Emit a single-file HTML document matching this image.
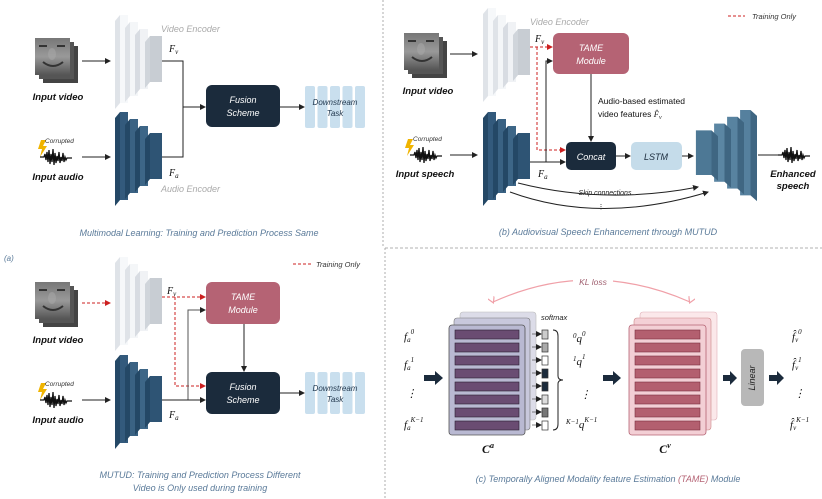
<!DOCTYPE html>
<html><head><meta charset="utf-8"><style>
html,body{margin:0;padding:0;background:#fff;}
svg{display:block;font-family:"Liberation Sans",sans-serif;}
.it{font-style:italic}
.lbl{font-weight:bold;font-style:italic;font-size:9.5px;fill:#111;text-anchor:middle}
.cap{font-style:italic;font-size:9px;fill:#5a7a99;text-anchor:middle}
.bx{font-style:italic;font-size:9px;fill:#fff;text-anchor:middle}
.math{font-family:"Liberation Serif",serif;font-style:italic;fill:#111}
</style></head><body>
<svg width="822" height="499" viewBox="0 0 822 499" xmlns="http://www.w3.org/2000/svg">
<defs>
<marker id="ar" markerWidth="6" markerHeight="6" refX="5" refY="3" orient="auto" markerUnits="userSpaceOnUse"><path d="M0,0L6,3L0,6z" fill="#222"/></marker>
<marker id="arr" markerWidth="6" markerHeight="6" refX="5" refY="3" orient="auto" markerUnits="userSpaceOnUse"><path d="M0,0L6,3L0,6z" fill="#cc2020"/></marker>
<marker id="arp" markerWidth="7" markerHeight="7" refX="3.5" refY="5" orient="auto" markerUnits="userSpaceOnUse"><path d="M0,0L3.5,6L7,0" fill="none" stroke="#f0a0a8" stroke-width="1.2"/></marker>
<linearGradient id="face" x1="0" y1="0" x2="0" y2="1"><stop offset="0" stop-color="#777"/><stop offset="0.5" stop-color="#999"/><stop offset="1" stop-color="#555"/></linearGradient>
<g id="encW">
 <polygon points="0,6 5,0 5,88 0,94" fill="#dfe3e8"/><rect x="5" y="0" width="8" height="88" fill="#f6f8fa"/>
 <polygon points="10,13 15,7 15,81 10,87" fill="#dfe3e8"/><rect x="15" y="7" width="8" height="74" fill="#f4f6f8"/>
 <polygon points="20,20 25,14 25,74 20,80" fill="#d8dce2"/><rect x="25" y="14" width="8" height="60" fill="#f0f2f5"/>
 <polygon points="30,27 35,21 35,67 30,73" fill="#d0d5db"/><rect x="35" y="21" width="12" height="46" fill="#c8cdd3"/>
</g>
<g id="encB">
 <polygon points="0,6 5,0 5,88 0,94" fill="#244866"/><rect x="5" y="0" width="8" height="88" fill="#335a7c"/>
 <polygon points="10,13 15,7 15,81 10,87" fill="#244866"/><rect x="15" y="7" width="8" height="74" fill="#3a6283"/>
 <polygon points="20,20 25,14 25,74 20,80" fill="#244866"/><rect x="25" y="14" width="8" height="60" fill="#3d6687"/>
 <polygon points="30,27 35,21 35,67 30,73" fill="#244866"/><rect x="35" y="21" width="12" height="46" fill="#2e5474"/>
</g>
<g id="encD">
 <polygon points="0,6 5,0 5,88 0,94" fill="#3f6682"/><rect x="5" y="0" width="8" height="88" fill="#55809e"/>
 <polygon points="10,13 15,7 15,81 10,87" fill="#3f6682"/><rect x="15" y="7" width="8" height="74" fill="#5883a0"/>
 <polygon points="20,20 25,14 25,74 20,80" fill="#3f6682"/><rect x="25" y="14" width="8" height="60" fill="#5b86a3"/>
 <polygon points="30,27 35,21 35,67 30,73" fill="#3f6682"/><rect x="35" y="21" width="12" height="46" fill="#4d7895"/>
</g>
<g id="faceimg">
 <rect x="8" y="8" width="35" height="37" fill="#444"/>
 <rect x="4" y="4" width="35" height="37" fill="#555"/>
 <rect x="0" y="0" width="35" height="37" fill="url(#face)"/>
 <path d="M4,8 h8 M22,8 h8 M8,24 q10,8 20,0" stroke="#333" stroke-width="2" fill="none"/>
 <ellipse cx="17" cy="16" rx="4" ry="6" fill="#aaa" opacity="0.5"/>
</g>
<g id="wave">
 <path d="M0,8 h4 l1,-3 l1,6 l1,-8 l1,10 l1,-12 l1,14 l1,-10 l1,8 l1,-13 l1,16 l1,-12 l1,10 l1,-7 l1,5 l1,-9 l1,11 l1,-6 l1,4 l1,-8 l1,9 l1,-5 l1,3 l1,-2 h5" stroke="#111" stroke-width="1.3" fill="none"/>
</g>
<g id="bolt"><polygon points="3,0 8,0 5,6 9,6 2,17 4,9 0,9" fill="#f0b400"/></g>
<g id="down">
 <rect x="0" y="0" width="10" height="42" rx="2" fill="#c9dfee"/>
 <rect x="12.5" y="0" width="10" height="42" rx="2" fill="#c9dfee"/>
 <rect x="25" y="0" width="10" height="42" rx="2" fill="#c9dfee"/>
 <rect x="37.5" y="0" width="10" height="42" rx="2" fill="#c9dfee"/>
 <rect x="50" y="0" width="10" height="42" rx="2" fill="#c9dfee"/>
 <text x="30" y="19" font-size="8" fill="#243a50" class="it" text-anchor="middle">Downstream</text>
 <text x="30" y="30" font-size="8" fill="#243a50" class="it" text-anchor="middle">Task</text>
</g>
</defs>

<line x1="383" y1="0" x2="383" y2="247" stroke="#999" stroke-dasharray="2,2" stroke-width="0.8"/>
<line x1="385" y1="248" x2="822" y2="248" stroke="#999" stroke-dasharray="3,2" stroke-width="0.8"/>
<line x1="385" y1="248" x2="385" y2="499" stroke="#999" stroke-dasharray="2,2" stroke-width="0.8"/>

<!-- ===== Panel top-left ===== -->
<use href="#faceimg" x="35" y="38"/>
<text x="58" y="100" class="lbl">Input video</text>
<line x1="82" y1="61" x2="110" y2="61" stroke="#222" marker-end="url(#ar)"/>
<use href="#encW" x="115" y="15"/>
<text x="161" y="32" font-size="9" class="it" fill="#aaa">Video Encoder</text>
<text x="169" y="52" font-size="10" class="math">F<tspan font-size="7" dy="2">v</tspan></text>
<path d="M162,61 H183 V157 H162" stroke="#222" fill="none"/>
<line x1="183" y1="107" x2="205" y2="107" stroke="#222" marker-end="url(#ar)"/>
<rect x="206" y="85" width="74" height="42" rx="6" fill="#1b2b3c"/>
<text x="243" y="103" class="bx">Fusion</text><text x="243" y="116" class="bx">Scheme</text>
<line x1="280" y1="107" x2="304" y2="107" stroke="#222" marker-end="url(#ar)"/>
<use href="#down" x="305" y="86"/>
<use href="#encB" x="115" y="112"/>
<use href="#bolt" x="38" y="140"/>
<text x="45" y="143" font-size="6.5" class="it" fill="#333">Corrupted</text>
<use href="#wave" x="40" y="149"/>
<text x="58" y="180" class="lbl">Input  audio</text>
<line x1="82" y1="157" x2="110" y2="157" stroke="#222" marker-end="url(#ar)"/>
<text x="169" y="176" font-size="10" class="math">F<tspan font-size="7" dy="2">a</tspan></text>
<text x="161" y="192" font-size="9" class="it" fill="#aaa">Audio Encoder</text>
<text x="199" y="236" class="cap">Multimodal Learning: Training and Prediction Process Same</text>

<!-- ===== Panel bottom-left ===== -->
<text x="4" y="261" font-size="8" class="it" fill="#5a7a99">(a)</text>
<line x1="293" y1="264" x2="312" y2="264" stroke="#cc2020" stroke-dasharray="3,2"/>
<text x="316" y="267" font-size="7.5" class="it" fill="#333">Training Only</text>
<use href="#faceimg" x="35" y="282"/>
<text x="58" y="343" class="lbl">Input video</text>
<line x1="82" y1="303" x2="110" y2="303" stroke="#cc2020" stroke-dasharray="3,2" marker-end="url(#arr)"/>
<use href="#encW" x="115" y="257"/>
<text x="167" y="294" font-size="10" class="math">F<tspan font-size="7" dy="2">v</tspan></text>
<line x1="162" y1="297" x2="205" y2="297" stroke="#cc2020" stroke-dasharray="3,2" marker-end="url(#arr)"/>
<path d="M175,297 V386 H205" stroke="#cc2020" stroke-dasharray="3,2" fill="none" marker-end="url(#arr)"/>
<path d="M188,400 V310 H205" stroke="#555" fill="none" marker-end="url(#ar)"/>
<rect x="206" y="282" width="74" height="42" rx="6" fill="#b56374"/>
<text x="243" y="300" class="bx">TAME</text><text x="243" y="313" class="bx">Module</text>
<line x1="244" y1="324" x2="244" y2="371" stroke="#222" marker-end="url(#ar)"/>
<line x1="162" y1="400" x2="205" y2="400" stroke="#222" marker-end="url(#ar)"/>
<rect x="206" y="372" width="74" height="42" rx="6" fill="#1b2b3c"/>
<text x="243" y="390" class="bx">Fusion</text><text x="243" y="403" class="bx">Scheme</text>
<line x1="280" y1="393" x2="304" y2="393" stroke="#222" marker-end="url(#ar)"/>
<use href="#down" x="305" y="372"/>
<use href="#encB" x="115" y="355"/>
<use href="#bolt" x="38" y="383"/>
<text x="45" y="386" font-size="6.5" class="it" fill="#333">Corrupted</text>
<use href="#wave" x="40" y="392"/>
<text x="58" y="423" class="lbl">Input  audio</text>
<line x1="82" y1="400" x2="110" y2="400" stroke="#222" marker-end="url(#ar)"/>
<text x="169" y="418" font-size="10" class="math">F<tspan font-size="7" dy="2">a</tspan></text>
<text x="200" y="478" class="cap">MUTUD: Training and Prediction Process Different</text>
<text x="200" y="491" class="cap" font-size="8">Video is Only used during training</text>

<!-- ===== Panel top-right ===== -->
<line x1="728" y1="16" x2="745" y2="16" stroke="#cc2020" stroke-dasharray="3,2"/>
<text x="752" y="19" font-size="7.5" class="it" fill="#333">Training Only</text>
<use href="#faceimg" x="404" y="33"/>
<text x="428" y="94" class="lbl">Input video</text>
<line x1="450" y1="54" x2="477" y2="54" stroke="#222" marker-end="url(#ar)"/>
<use href="#encW" x="483" y="8"/>
<text x="530" y="25" font-size="9" class="it" fill="#aaa">Video Encoder</text>
<text x="535" y="42" font-size="10" class="math">F<tspan font-size="7" dy="2">v</tspan></text>
<line x1="530" y1="47" x2="552" y2="47" stroke="#cc2020" stroke-dasharray="3,2" marker-end="url(#arr)"/>
<path d="M537,47 V150 H565" stroke="#cc2020" stroke-dasharray="3,2" fill="none" marker-end="url(#arr)"/>
<path d="M546,162 V61 H552" stroke="#222" fill="none" marker-end="url(#ar)"/>
<rect x="553" y="33" width="76" height="41" rx="6" fill="#b56374"/>
<text x="591" y="51" class="bx">TAME</text><text x="591" y="64" class="bx">Module</text>
<line x1="591" y1="74" x2="591" y2="141" stroke="#222" marker-end="url(#ar)"/>
<text x="598" y="104" font-size="8.5" fill="#111">Audio-based estimated</text>
<text x="598" y="117" font-size="8.5" fill="#111">video features <tspan class="math">F̂<tspan font-size="6" dy="2">v</tspan></tspan></text>
<rect x="566" y="142" width="50" height="28" rx="5" fill="#1b2b3c"/>
<text x="591" y="160" class="bx">Concat</text>
<line x1="528" y1="162" x2="565" y2="162" stroke="#222" marker-end="url(#ar)"/>
<text x="538" y="177" font-size="10" class="math">F<tspan font-size="7" dy="2">a</tspan></text>
<line x1="616" y1="156" x2="630" y2="156" stroke="#222" marker-end="url(#ar)"/>
<rect x="631" y="142" width="51" height="28" rx="5" fill="#c5dcea"/>
<text x="656" y="160" class="bx" style="fill:#1b2b3c">LSTM</text>
<line x1="682" y1="156" x2="693" y2="156" stroke="#222" marker-end="url(#ar)"/>
<g transform="translate(757,110) scale(-1.3,0.97)"><use href="#encD"/></g>
<line x1="758" y1="155" x2="778" y2="155" stroke="#222"/>
<use href="#wave" x="778" y="147"/>
<text x="793" y="177" class="lbl">Enhanced</text><text x="793" y="189" class="lbl">speech</text>
<use href="#encB" x="483" y="112"/>
<use href="#bolt" x="405" y="139"/>
<text x="413" y="141" font-size="6.5" class="it" fill="#333">Corrupted</text>
<use href="#wave" x="410" y="147"/>
<text x="425" y="177" class="lbl">Input  speech</text>
<line x1="450" y1="155" x2="477" y2="155" stroke="#222" marker-end="url(#ar)"/>
<path d="M518,183 Q605,205 698,187" stroke="#222" fill="none" marker-end="url(#ar)"/>
<path d="M510,192 Q600,225 708,192" stroke="#222" fill="none" marker-end="url(#ar)"/>
<text x="605" y="195" font-size="7" class="it" fill="#222" text-anchor="middle">Skip connections</text>
<text x="601" y="209" font-size="7" fill="#222" text-anchor="middle">⋮</text>
<text x="608" y="235" class="cap">(b) Audiovisual Speech Enhancement through MUTUD</text>

<!-- ===== Panel bottom-right ===== -->
<path d="M493,302 Q590,258 690,302" stroke="#f0a0a8" stroke-width="1.2" fill="none" marker-start="url(#arp)" marker-end="url(#arp)"/>
<rect x="573" y="274" width="40" height="14" fill="#fff"/>
<text x="593" y="285" font-size="8.5" class="it" fill="#a06070" text-anchor="middle">KL loss</text>
<text x="404" y="340" font-size="11" class="math">f<tspan font-size="7" dy="2">a</tspan><tspan font-size="7" dy="-8">0</tspan></text>
<text x="404" y="368" font-size="11" class="math">f<tspan font-size="7" dy="2">a</tspan><tspan font-size="7" dy="-8">1</tspan></text>
<text x="406" y="397" font-size="11" class="math">⋮</text>
<text x="404" y="428" font-size="11" class="math">f<tspan font-size="7" dy="2">a</tspan><tspan font-size="7" dy="-8">K−1</tspan></text>
<polygon points="424,375 435,375 435,371 443,378 435,385 435,381 424,381" fill="#1b2b3c"/>
<rect x="460" y="312" width="76" height="108" rx="3" fill="#dcdce8" stroke="#bbb" stroke-width="0.6"/>
<rect x="454" y="318" width="76" height="112" rx="3" fill="#c8c8dc" stroke="#777" stroke-width="0.6"/>
<rect x="449" y="325" width="76" height="110" rx="3" fill="#b9b9d2" stroke="#555" stroke-width="0.8"/>
<g fill="#6a4c72" stroke="#2a2030" stroke-width="0.6">
<rect x="455" y="330" width="64" height="9"/><rect x="455" y="343" width="64" height="9"/>
<rect x="455" y="356" width="64" height="9"/><rect x="455" y="369" width="64" height="9"/>
<rect x="455" y="382" width="64" height="9"/><rect x="455" y="395" width="64" height="9"/>
<rect x="455" y="408" width="64" height="9"/><rect x="455" y="421" width="64" height="9"/>
</g>
<text x="541" y="320" font-size="7.5" class="it" fill="#222">softmax</text>
<g stroke="#333" stroke-width="0.7">
<rect x="542" y="330" width="6" height="9" fill="#ccc"/><rect x="542" y="343" width="6" height="9" fill="#aaa"/>
<rect x="542" y="356" width="6" height="9" fill="#fff"/><rect x="542" y="369" width="6" height="9" fill="#1b2b3c"/>
<rect x="542" y="382" width="6" height="9" fill="#1b2b3c"/><rect x="542" y="395" width="6" height="9" fill="#ddd"/>
<rect x="542" y="408" width="6" height="9" fill="#777"/><rect x="542" y="421" width="6" height="9" fill="#fff"/>
</g>
<g stroke="#333" stroke-width="0.6">
<line x1="532" y1="334" x2="541" y2="334" marker-end="url(#ar)"/><line x1="532" y1="347" x2="541" y2="347" marker-end="url(#ar)"/>
<line x1="532" y1="360" x2="541" y2="360" marker-end="url(#ar)"/><line x1="532" y1="373" x2="541" y2="373" marker-end="url(#ar)"/>
<line x1="532" y1="386" x2="541" y2="386" marker-end="url(#ar)"/><line x1="532" y1="399" x2="541" y2="399" marker-end="url(#ar)"/>
<line x1="532" y1="412" x2="541" y2="412" marker-end="url(#ar)"/><line x1="532" y1="425" x2="541" y2="425" marker-end="url(#ar)"/>
</g>
<path d="M553,330 q5,0 5,6 v40 q0,4 5,4 q-5,0 -5,4 v40 q0,6 -5,6" stroke="#222" fill="none"/>
<text x="573" y="342" font-size="11" class="math"><tspan font-size="7" dy="-4">0</tspan><tspan dy="4">q</tspan><tspan font-size="7" dy="-6">0</tspan></text>
<text x="573" y="365" font-size="11" class="math"><tspan font-size="7" dy="-4">1</tspan><tspan dy="4">q</tspan><tspan font-size="7" dy="-6">1</tspan></text>
<text x="580" y="398" font-size="11" class="math">⋮</text>
<text x="566" y="428" font-size="11" class="math"><tspan font-size="7" dy="-4">K−1</tspan><tspan dy="4">q</tspan><tspan font-size="7" dy="-6">K−1</tspan></text>
<text x="488" y="453" font-size="12" font-weight="bold" class="math" text-anchor="middle">C<tspan font-size="8" dy="-5">a</tspan></text>
<polygon points="603,375 613,375 613,371 621,378 613,385 613,381 603,381" fill="#1b2b3c"/>
<rect x="640" y="312" width="77" height="108" rx="3" fill="#fbe8ea" stroke="#e0b0b8" stroke-width="0.6"/>
<rect x="634" y="318" width="77" height="112" rx="3" fill="#f4d0d6" stroke="#c88" stroke-width="0.6"/>
<rect x="629" y="325" width="77" height="110" rx="3" fill="#f3cfd5" stroke="#b56374" stroke-width="0.8"/>
<g fill="#b35f6f" stroke="#7a3040" stroke-width="0.6">
<rect x="635" y="330" width="65" height="9"/><rect x="635" y="343" width="65" height="9"/>
<rect x="635" y="356" width="65" height="9"/><rect x="635" y="369" width="65" height="9"/>
<rect x="635" y="382" width="65" height="9"/><rect x="635" y="395" width="65" height="9"/>
<rect x="635" y="408" width="65" height="9"/><rect x="635" y="421" width="65" height="9"/>
</g>
<text x="665" y="453" font-size="12" font-weight="bold" class="math" text-anchor="middle">C<tspan font-size="8" dy="-5">v</tspan></text>
<polygon points="723,375 730,375 730,371 737,378 730,385 730,381 723,381" fill="#1b2b3c"/>
<rect x="741" y="349" width="23" height="57" rx="4" fill="#b8b8b8"/>
<text x="0" y="0" font-size="9" class="it" fill="#222" text-anchor="middle" transform="translate(755,378) rotate(-90)">Linear</text>
<polygon points="769,375 777,375 777,371 784,378 777,385 777,381 769,381" fill="#1b2b3c"/>
<text x="792" y="340" font-size="11" class="math">f̂<tspan font-size="7" dy="2">v</tspan><tspan font-size="7" dy="-8">0</tspan></text>
<text x="792" y="368" font-size="11" class="math">f̂<tspan font-size="7" dy="2">v</tspan><tspan font-size="7" dy="-8">1</tspan></text>
<text x="794" y="397" font-size="11" class="math">⋮</text>
<text x="790" y="428" font-size="11" class="math">f̂<tspan font-size="7" dy="2">v</tspan><tspan font-size="7" dy="-8">K−1</tspan></text>
<text x="608" y="482" class="cap">(c) Temporally Aligned Modality feature Estimation <tspan fill="#b56374">(TAME)</tspan> Module</text>
</svg>
</body></html>
